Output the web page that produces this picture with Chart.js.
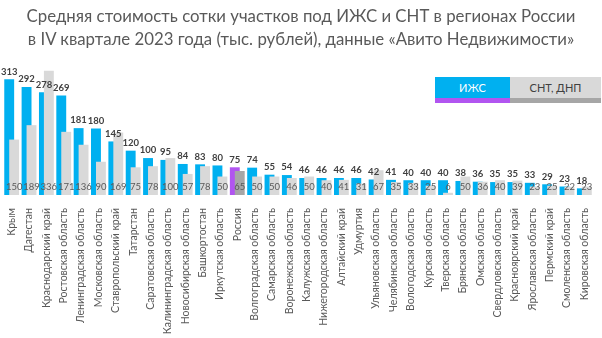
<!DOCTYPE html>
<html>
<head>
<meta charset="utf-8">
<script src="https://cdn.jsdelivr.net/npm/chart.js@4"></script>
<style>
    body { margin: 0; background: #fff; }
    #wrap { position: relative; width: 602px; height: 338px; font-family: Lato, sans-serif; }
    #title { position: absolute; left: 0; top: 4px; width: 602px; text-align: center;
             font-size: 16.8px; line-height: 23px; color: #595959; }
    .legend { position: absolute; top: 77px; height: 21px; line-height: 21px; text-align: center;
              font-size: 11px; box-sizing: border-box; }
    #leg-izhs { left: 435px; width: 75px; background: #00b0f0; color: #fff; border-bottom: 5px solid #b155f0; height: 26px; }
    #leg-snt { left: 510px; width: 91px; background: #d9d9d9; color: #404040; border-bottom: 5px solid #a6a6a6; height: 26px; }
</style>
</head>
<body>
<div id="wrap">
    <canvas id="chart" width="602" height="338"></canvas>
    <div id="title">Средняя стоимость сотки участков под ИЖС и СНТ в регионах России<br>в IV квартале 2023 года (тыс. рублей), данные «Авито Недвижимости»</div>
    <div class="legend" id="leg-izhs">ИЖС</div>
    <div class="legend" id="leg-snt">СНТ, ДНП</div>
</div>
<script>
const REGIONS = ["Крым", "Дагестан", "Краснодарский край", "Ростовская область", "Ленинградская область",
    "Московская область", "Ставропольский край", "Татарстан", "Саратовская область", "Калининградская область",
    "Новосибирская область", "Башкортостан", "Иркутская область", "Россия", "Волгоградская область",
    "Самарская область", "Воронежская область", "Калужская область", "Нижегородская область", "Алтайский край",
    "Удмуртия", "Ульяновская область", "Челябинская область", "Вологодская область", "Курская область",
    "Тверская область", "Брянская область", "Омская область", "Свердловская область", "Красноярский край",
    "Ярославская область", "Пермский край", "Смоленская область", "Кировская область"];
const IZHS = [313, 292, 278, 269, 181, 180, 145, 120, 100, 95, 84, 83, 80, 75, 74, 55, 54, 46, 46, 46,
    46, 42, 41, 40, 40, 40, 38, 36, 35, 35, 33, 29, 23, 18];
const SNT = [150, 189, 336, 171, 136, 90, 169, 75, 78, 100, 57, 78, 50, 65, 50, 50, 46, 50, 40, 41,
    31, 67, 35, 33, 25, 6, 50, 36, 40, 39, 23, 25, 22, 23];

const BLUE = "#00b0f0";
const PURPLE = "#b155f0";
const GREY = "#d9d9d9";
const DARKGREY = "#a6a6a6";
const TEXTCOLOR = "#595959";

function colorsFor(main, highlight) {
    return REGIONS.map(r => r === "Россия" ? highlight : main);
}

// grey bars sit to the right of the blue ones but must overlap them,
// so skip them in the normal pass and draw them after the blue ones
const greyOnTop = {
    id: "greyOnTop",
    beforeDatasetDraw(chart, args) {
        if (args.index === 1) {
            return false;
        }
    },
    afterDatasetsDraw(chart) {
        chart.getDatasetMeta(1).controller.draw();
    }
};

const valueLabels = {
    id: "valueLabels",
    afterDatasetsDraw(chart) {
        const ctx = chart.ctx;
        const base = chart.scales.y.getPixelForValue(0);
        ctx.save();
        ctx.textAlign = "center";
        ctx.font = "bold 9.5px Lato";
        ctx.fillStyle = "#404040";
        ctx.textBaseline = "bottom";
        chart.getDatasetMeta(0).data.forEach((bar, i) => {
            ctx.fillText(IZHS[i], bar.x, bar.y - 3);
        });
        ctx.font = "9.5px Lato";
        ctx.fillStyle = TEXTCOLOR;
        ctx.textBaseline = "middle";
        chart.getDatasetMeta(1).data.forEach((bar, i) => {
            ctx.fillText(SNT[i], bar.x, base - 8);
        });
        ctx.restore();
    }
};

const ctx = document.querySelector("#chart").getContext("2d");
new Chart(ctx, {
    type: "bar",
    data: {
        labels: REGIONS,
        datasets: [{
            label: "ИЖС",
            data: IZHS,
            backgroundColor: colorsFor(BLUE, PURPLE)
        }, {
            label: "СНТ, ДНП",
            data: SNT,
            backgroundColor: colorsFor(GREY, DARKGREY)
        }]
    },
    options: {
        responsive: false,
        animation: false,
        categoryPercentage: 0.57,
        barPercentage: 2.0,
        layout: {
            padding: { top: 62, left: 3, right: 4, bottom: 0 }
        },
        scales: {
            y: {
                display: false,
                min: 0,
                max: 360
            },
            x: {
                grid: { display: false },
                border: { display: false },
                ticks: {
                    color: TEXTCOLOR,
                    font: { family: "Lato", size: 10.5 },
                    autoSkip: false,
                    minRotation: 90,
                    maxRotation: 90,
                    padding: 5
                },
                afterFit(scale) {
                    scale.height = 143;
                }
            }
        },
        plugins: {
            legend: { display: false },
            tooltip: { enabled: false }
        }
    },
    plugins: [greyOnTop, valueLabels]
});
</script>
</body>
</html>
